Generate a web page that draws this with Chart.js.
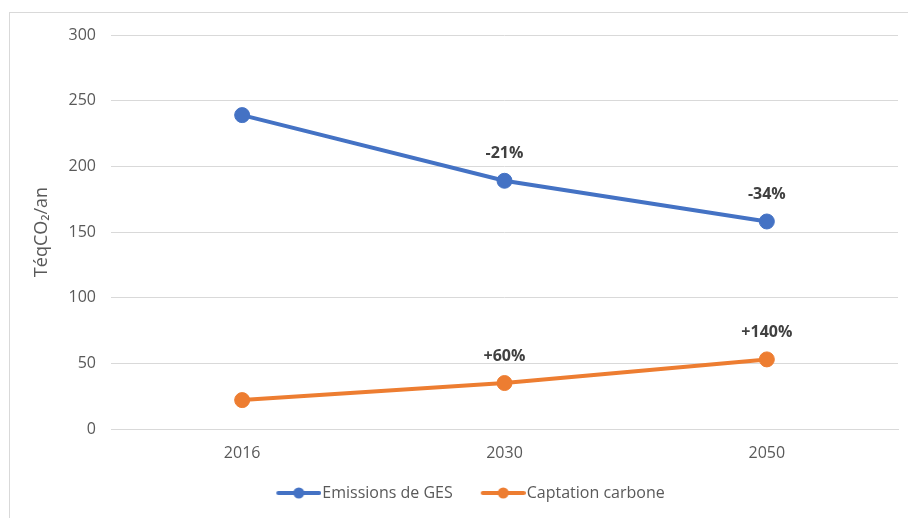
<!DOCTYPE html>
<html>
<head>
<meta charset="utf-8">
<script src="https://cdn.jsdelivr.net/npm/chart.js@4.4.0/dist/chart.umd.min.js"></script>
<style>
  html, body { margin: 0; padding: 0; background: #fff; }
  #wrap { position: relative; width: 908px; height: 518px; overflow: hidden; }
  #frame { position: absolute; left: 9px; top: 12px; width: 1000px; height: 600px;
           border-left: 1px solid #d9d9d9; border-top: 1px solid #d9d9d9; }
  #box { position: absolute; left: 0; top: 0; width: 908px; height: 518px; }
</style>
</head>
<body>
<div id="wrap">
  <div id="frame"></div>
  <div id="box"><canvas id="ghgChart"></canvas></div>
</div>
<script>
// data
const years = ['2016', '2030', '2050'];
const emissions = [239, 189, 158];
const captation = [22, 35, 53];
const emissionsLabels = ['', '-21%', '-34%'];
const captationLabels = ['', '+60%', '+140%'];
const pctLabels = [emissionsLabels, captationLabels];

const blue = '#4472C4';
const orange = '#ED7D31';
const grey = '#595959';

// legend marker: line with a dot, pushed to the right of the image
function legendMarker(color) {
    const c = document.createElement('canvas');
    c.width = 64;
    c.height = 12;
    const g = c.getContext('2d');
    g.strokeStyle = color;
    g.lineWidth = 4;
    g.lineCap = 'round';
    g.beginPath();
    g.moveTo(21, 6);
    g.lineTo(62, 6);
    g.stroke();
    g.fillStyle = color;
    g.beginPath();
    g.arc(41.5, 6, 5.5, 0, Math.PI * 2);
    g.fill();
    return c;
}

const pctPlugin = {
    id: 'pctLabels',
    afterDatasetsDraw(chart) {
        const ctx = chart.ctx;
        ctx.save();
        ctx.font = 'bold 16px "Open Sans"';
        ctx.fillStyle = '#404040';
        ctx.textAlign = 'center';
        ctx.textBaseline = 'middle';
        chart.data.datasets.forEach((ds, i) => {
            chart.getDatasetMeta(i).data.forEach((pt, j) => {
                const t = pctLabels[i][j];
                if (t) ctx.fillText(t, pt.x, pt.y - 27);
            });
        });
        ctx.restore();
    }
};

const ctx = document.getElementById('ghgChart').getContext('2d');
const ghgChart = new Chart(ctx, {
    type: 'line',
    data: {
        labels: years,
        datasets: [
            {
                label: 'Emissions de GES',
                data: emissions,
                borderColor: blue,
                backgroundColor: blue,
                borderWidth: 4,
                pointRadius: 7.5,
                pointHoverRadius: 7.5,
                pointBorderWidth: 1,
                fill: false
            },
            {
                label: 'Captation carbone',
                data: captation,
                borderColor: orange,
                backgroundColor: orange,
                borderWidth: 4,
                pointRadius: 7.5,
                pointHoverRadius: 7.5,
                pointBorderWidth: 1,
                fill: false
            }
        ]
    },
    options: {
        responsive: true,
        maintainAspectRatio: false,
        animation: false,
        layout: {
            padding: { left: 31, right: 10, top: 35, bottom: 7 }
        },
        plugins: {
            tooltip: { enabled: false },
            legend: {
                position: 'bottom',
                labels: {
                    usePointStyle: true,
                    pointStyleWidth: 50,
                    padding: 16,
                    color: grey,
                    font: { family: '"Open Sans"', size: 16 },
                    generateLabels(chart) {
                        return chart.data.datasets.map((ds, i) => ({
                            text: ds.label,
                            fontColor: grey,
                            pointStyle: legendMarker(ds.borderColor),
                            strokeStyle: ds.borderColor,
                            fillStyle: ds.borderColor,
                            lineWidth: 0,
                            hidden: false,
                            datasetIndex: i
                        }));
                    }
                }
            }
        },
        scales: {
            x: {
                offset: true,
                afterFit(scale) { scale.height = 40; },
                grid: { display: false, drawTicks: false },
                border: { display: true, color: '#d9d9d9' },
                ticks: {
                    padding: 15,
                    color: grey,
                    font: { family: '"Open Sans"', size: 16 }
                }
            },
            y: {
                min: 0,
                max: 300,
                afterFit(scale) { scale.width = 80; },
                grid: { color: '#d9d9d9', drawTicks: false },
                border: { display: false },
                ticks: {
                    stepSize: 50,
                    padding: 15,
                    color: grey,
                    font: { family: '"Open Sans"', size: 16 }
                },
                title: {
                    display: true,
                    text: 'TéqCO₂/an',
                    color: grey,
                    font: { family: '"Open Sans"', size: 18 },
                    padding: { top: 0, bottom: 0 }
                }
            }
        }
    },
    plugins: [pctPlugin]
});
</script>
</body>
</html>
